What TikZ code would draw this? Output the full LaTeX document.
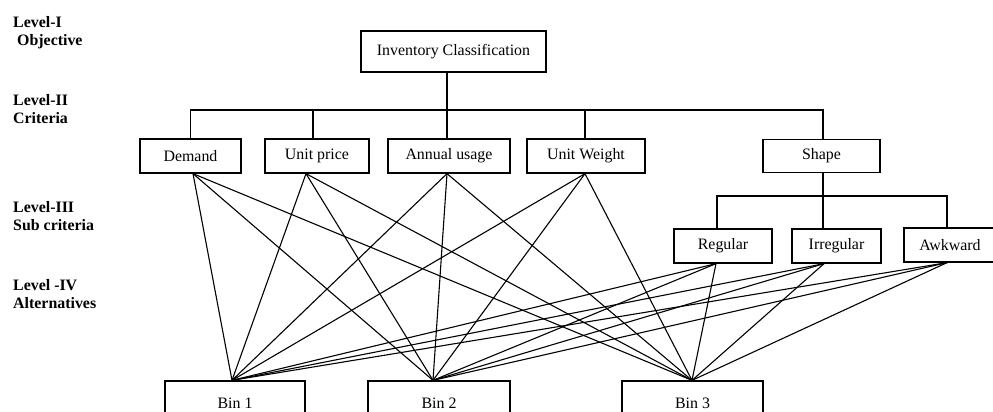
\documentclass[tikz,border=0pt]{standalone}
\usepackage{fontspec}
\setmainfont{Liberation Serif}
\usetikzlibrary{calc}

\tikzset{
  box/.style={draw, line width=1.3pt, fill=white, inner sep=0pt, anchor=center,
              font=\fontsize{15.9}{18}\selectfont},
  link/.style={line width=1.1pt, line cap=round},
  lvl/.style={anchor=north west, align=left, inner sep=0pt,
              font=\fontsize{15.9}{18}\selectfont\bfseries}
}

\begin{document}
\begin{tikzpicture}[x=1pt, y=-1pt]
  \useasboundingbox (0,0) rectangle (993,412);
  \clip (0,0) rectangle (993,412);
  \fill[white] (0,0) rectangle (993,412);

  % level captions on the left
  \node[lvl] (l1) at (13,16) {Level-I\\\hspace*{4pt}Objective};
  \node[lvl] (l2) at (13,94) {Level-II\\Criteria};
  \node[lvl] (l3) at (13,201) {Level-III\\Sub criteria};
  \node[lvl] (l4) at (13,279) {Level -IV\\Alternatives};

  % goal
  \node[box, minimum width=185pt, minimum height=41pt] (inv) at (453.5,51.5) {Inventory Classification};

  % criteria
  \node[box, minimum width=101pt, minimum height=34pt] (dem) at (190.5,156) {Demand};
  \node[box, minimum width=104pt, minimum height=34pt] (up)  at (317,156)   {Unit price};
  \node[box, minimum width=122pt, minimum height=34pt] (au)  at (449,156)   {Annual usage};
  \node[box, minimum width=118pt, minimum height=34pt] (uw)  at (586,156)   {Unit Weight};
  \node[box, minimum width=117pt, minimum height=33pt] (shp) at (821.5,156) {Shape};

  % sub criteria of shape
  \node[box, minimum width=98pt, minimum height=34pt] (reg) at (723,246)   {Regular};
  \node[box, minimum width=89pt, minimum height=34pt] (irr) at (836.5,246) {Irregular};
  \node[box, minimum width=92pt, minimum height=34pt] (awk) at (950,245)   {Awkward};

  % alternatives (their lower edge runs past the bottom border)
  \node[box, minimum width=140pt, minimum height=44pt] (b1) at (235,403)   {Bin 1};
  \node[box, minimum width=142pt, minimum height=44pt] (b2) at (439,403)   {Bin 2};
  \node[box, minimum width=141pt, minimum height=44pt] (b3) at (692.5,403) {Bin 3};

  % bus levels of the tree
  \coordinate (busA) at (0,110);
  \coordinate (busB) at (0,196);

  % tree: goal to criteria
  \draw[link] ([xshift=-6.5pt]inv.south) -- ([xshift=-6.5pt]inv.south |- busA);
  \draw[link] (dem.north) -- (dem.north |- busA) -- ([xshift=1.5pt]shp.north |- busA) -- ([xshift=1.5pt]shp.north);
  \draw[link] ([xshift=-4pt]up.north) -- ([xshift=-4pt]up.north |- busA);
  \draw[link] ([xshift=-2pt]au.north) -- ([xshift=-2pt]au.north |- busA);
  \draw[link] ([xshift=-1pt]uw.north) -- ([xshift=-1pt]uw.north |- busA);

  % tree: shape to sub criteria
  \draw[link] ([xshift=1.5pt]shp.south) -- ([xshift=1.5pt]shp.south |- busB);
  \draw[link] ([xshift=-6pt]reg.north) -- ([xshift=-6pt]reg.north |- busB)
              -- ([xshift=-3pt]awk.north |- busB) -- ([xshift=-3pt]awk.north);
  \draw[link] ([xshift=-13.5pt]irr.north) -- ([xshift=-13.5pt]irr.north |- busB);

  % attachment points of the links to the alternatives
  \coordinate (dem-s) at ([xshift=2.5pt]dem.south);
  \coordinate (up-s)  at ([xshift=-11pt]up.south);
  \coordinate (au-s)  at ([xshift=-2pt]au.south);
  \coordinate (uw-s)  at ([xshift=-1pt]uw.south);
  \coordinate (reg-s) at ([xshift=-7pt]reg.south);
  \coordinate (irr-s) at ([xshift=-12.5pt]irr.south);
  \coordinate (awk-s) at ([xshift=-3pt]awk.south);
  \coordinate (b1-n)  at ([xshift=-3pt]b1.north);
  \coordinate (b2-n)  at ([xshift=-6pt]b2.north);
  \coordinate (b3-n)  at ([xshift=-0.5pt]b3.north);

  % every criterion and sub criterion feeds every bin
  \foreach \src in {dem-s, up-s, au-s, uw-s, reg-s, irr-s, awk-s}{
    \foreach \dst in {b1-n, b2-n, b3-n}{
      \draw[link] (\src) -- (\dst);
    }
  }
\end{tikzpicture}
\end{document}
